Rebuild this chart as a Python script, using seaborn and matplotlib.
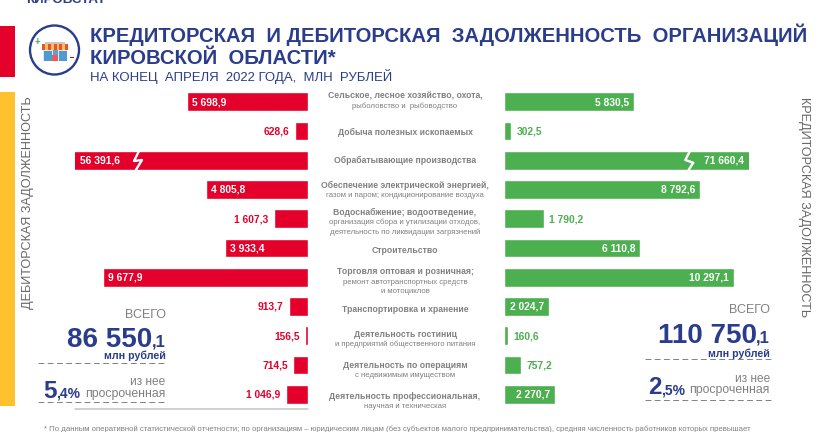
import seaborn as sns
import matplotlib
matplotlib.use("Agg")
import matplotlib.pyplot as plt
import pandas as pd
from matplotlib.patches import Circle, Rectangle

# data
categories = ["agro", "mining", "manuf", "energy", "water", "build", "trade",
              "transport", "hotels", "realty", "science"]
debit = [5698.9, 628.6, 56391.6, 4805.8, 1607.3, 3933.4, 9677.9, 913.7, 156.5, 714.5, 1046.9]
credit = [5830.5, 302.5, 71660.4, 8792.6, 1790.2, 6110.8, 10297.1, 2024.7, 160.6, 757.2, 2270.7]
label_head = [
    ["Сельское, лесное хозяйство, охота,"],
    ["Добыча полезных ископаемых"],
    ["Обрабатывающие производства"],
    ["Обеспечение электрической энергией,"],
    ["Водоснабжение; водоотведение,"],
    ["Строительство"],
    ["Торговля оптовая и розничная;"],
    ["Транспортировка и хранение"],
    ["Деятельность гостиниц"],
    ["Деятельность по операциям"],
    ["Деятельность профессиональная,"],
]
label_tail = [
    ["рыболовство и  рыбоводство"],
    [],
    [],
    ["газом и паром; кондиционирование воздуха"],
    ["организация сбора и утилизации отходов,", "деятельность по ликвидации загрязнений"],
    [],
    ["ремонт автотранспортных средств", "и мотоциклов"],
    [],
    ["и предприятий общественного питания"],
    ["с недвижимым имуществом"],
    ["научная и техническая"],
]

RED = "#E4002B"
GREEN = "#4CAF50"
BLUE = "#2A3C8C"
YELLOW = "#FFC12E"
GREY = "#808080"
FONT = "Liberation Sans"

# y of first text line per row, pixels
label_y = [96, 132.7, 160.7, 185.7, 212.3, 250.7, 272, 309, 334.3, 365.3, 396.7]

sns.set_theme(style="white")
plt.rcParams["font.family"] = [FONT, "DejaVu Sans"]

W, H = 832, 432
fig = plt.figure(figsize=(W / 100, H / 100), dpi=100)


def px_axes(x0, y0, x1, y1):
    return fig.add_axes([x0 / W, 1 - y1 / H, (x1 - x0) / W, (y1 - y0) / H])


df = pd.DataFrame({"cat": categories, "debit": debit, "credit": credit})

# bars are cut by the axis limit, the same way the original breaks the long ones
LIMIT_L = 11000
LIMIT_R = 10990
ax_l = px_axes(75, 87, 308.3, 409)
ax_r = px_axes(504, 87, 749.3, 409)
sns.barplot(data=df, y="cat", x="debit", color=RED, saturation=1, width=0.64, ax=ax_l)
sns.barplot(data=df, y="cat", x="credit", color=GREEN, saturation=1, width=0.64, ax=ax_r)
ax_l.set_xlim(LIMIT_L, 0)
ax_r.set_xlim(0, LIMIT_R)

for ax in (ax_l, ax_r):
    ax.set_xlabel("")
    ax.set_ylabel("")
    ax.set_xticks([])
    ax.set_yticks([])
    ax.set_ylim(10.5, -0.5)
    ax.patch.set_alpha(0)
    sns.despine(ax=ax, left=True, right=True, top=True, bottom=True)


def fmt(v):
    s = f"{v:,.1f}".replace(",", " ").replace(".", ",")
    return s


def value_labels(ax, values, limit, inside_from, color, sign):
    for i, v in enumerate(values):
        end = min(v, limit)
        inside = v >= inside_from
        # sign: which way the bar grows on screen
        off = -5 * sign if inside else 5.5 * sign
        ha = "right" if off < 0 else "left"
        ax.annotate(fmt(v), xy=(end, i), xytext=(off * 0.72, -0.3), textcoords="offset points",
                    ha=ha, va="center", fontsize=7.4, fontweight="bold",
                    color="white" if inside else color, annotation_clip=False)


value_labels(ax_l, debit, LIMIT_L, 3000, RED, -1)
value_labels(ax_r, credit, LIMIT_R, 2000, GREEN, 1)

# overlay in pixel coordinates for the infographic parts
ov = fig.add_axes([0, 0, 1, 1], zorder=5)
ov.set_xlim(0, W)
ov.set_ylim(H, 0)
ov.axis("off")
ov.patch.set_alpha(0)

ov.add_patch(Rectangle((0, 26), 15, 50.5, color=RED, lw=0))
ov.add_patch(Rectangle((0, 92), 15, 313.5, color=YELLOW, lw=0))

# axis break marks
ov.plot([139, 134, 142, 136], [151, 161, 160, 169.7], color="white", lw=1.7)
ov.plot([690, 685.3, 693.3, 688.7], [151, 160, 162.7, 169.7], color="white", lw=1.7)
ov.plot([75, 308], [408.7, 408.7], color="#C4C4C4", lw=1.1)

# header
ov.text(26, 3, "КИРОВСТАТ", color=BLUE, fontsize=9.6, fontweight="bold", va="baseline")
ov.text(90, 42, "КРЕДИТОРСКАЯ  И ДЕБИТОРСКАЯ  ЗАДОЛЖЕННОСТЬ  ОРГАНИЗАЦИЙ", color=BLUE,
        fontsize=14.6, fontweight="bold", va="baseline")
ov.text(90, 64, "КИРОВСКОЙ  ОБЛАСТИ*", color=BLUE, fontsize=14.6, fontweight="bold", va="baseline")
ov.text(90, 81, "НА КОНЕЦ  АПРЕЛЯ  2022 ГОДА,  МЛН  РУБЛЕЙ", color=BLUE, fontsize=9.45, va="baseline")

# icon
ov.add_patch(Circle((54.5, 50), 24.5, fill=False, ec=BLUE, lw=1.7))
ov.add_patch(Rectangle((45, 42), 20, 2.5, color="#C9C9C9", lw=0))
ov.add_patch(Rectangle((43, 49), 24, 12, color="#DDE7EF", lw=0))
for k in range(9):
    ov.add_patch(Rectangle((42 + k * 2.9, 44), 2.9, 5.5, color="#E8503A" if k % 2 == 0 else "#F7C44C", lw=0))
ov.add_patch(Rectangle((43.5, 51), 8, 9.5, color="#4E9BD1", lw=0))
ov.add_patch(Rectangle((58.5, 51), 8, 9.5, color="#4E9BD1", lw=0))
ov.add_patch(Rectangle((52, 55), 6, 6, color="#EE5A5A", lw=0))
ov.add_patch(Rectangle((52.5, 50), 5, 5, color="#6C9BC7", lw=0))
ov.text(37.7, 41.5, "+", color=GREEN, fontsize=7, fontweight="bold", ha="center", va="center")
ov.add_patch(Rectangle((69.5, 57), 4.5, 1.4, color=RED, lw=0))

# centre labels
for head, tail, y in zip(label_head, label_tail, label_y):
    for line in head:
        ov.text(405, y, line, color=GREY, fontsize=6.2, fontweight="bold", ha="center", va="center")
    for k, line in enumerate(tail):
        ov.text(405, y + 10 + k * 9.6, line, color=GREY, fontsize=5.6, ha="center", va="center")

# side titles
ov.text(28.5, 202.5, "ДЕБИТОРСКАЯ ЗАДОЛЖЕННОСТЬ", rotation=90, color="#666666", fontsize=9.1,
        ha="center", va="center")
ov.text(803.5, 207.5, "КРЕДИТОРСКАЯ ЗАДОЛЖЕННОСТЬ", rotation=270, color="#666666", fontsize=9.1,
        ha="center", va="center")


def total_block(right, ys, total, frac, pct_whole, pct_frac, dash_x, pct_x):
    # ys: ВСЕГО, total baseline, units, dash, из нее, просроченная, pct baseline, dash
    ov.text(right, ys[0], "ВСЕГО", color=GREY, fontsize=9, ha="right", va="center")
    ov.text(right - 13.5, ys[1], total, color=BLUE, fontsize=20, fontweight="bold", ha="right", va="baseline")
    ov.text(right, ys[1], frac, color=BLUE, fontsize=12, fontweight="bold", ha="right", va="baseline")
    ov.text(right, ys[2], "млн рублей", color=BLUE, fontsize=7.7, fontweight="bold", ha="right", va="center")
    ov.plot(dash_x, [ys[3], ys[3]], color=GREY, lw=0.7, dashes=(6, 3.5))
    ov.text(right, ys[4], "из нее", color=GREY, fontsize=8.6, ha="right", va="center")
    ov.text(right, ys[5], "просроченная", color=GREY, fontsize=8.8, ha="right", va="center")
    ov.text(pct_x, ys[6], pct_whole, color=BLUE, fontsize=17.5, fontweight="bold", ha="left", va="baseline")
    ov.text(pct_x + 13.5, ys[6], pct_frac, color=BLUE, fontsize=10, fontweight="bold", ha="left", va="baseline")
    ov.plot(dash_x, [ys[7], ys[7]], color=GREY, lw=0.7, dashes=(6, 3.5))


total_block(165.5, [315, 346.7, 356, 362.7, 382, 393.7, 397.7, 402], "86 550", ",1", "5", ",4%", [38, 165.5], 43)
total_block(770, [310, 342.7, 354, 359.4, 378.7, 390.3, 394.3, 400.3], "110 750", ",1", "2", ",5%", [645, 772], 648)

ov.text(44, 429, "* По данным оперативной статистической отчетности; по организациям – юридическим лицам "
        "(без субъектов малого предпринимательства), средняя численность работников которых превышает",
        color=GREY, fontsize=5.6, va="center")

fig.savefig("out.png", dpi=100)
